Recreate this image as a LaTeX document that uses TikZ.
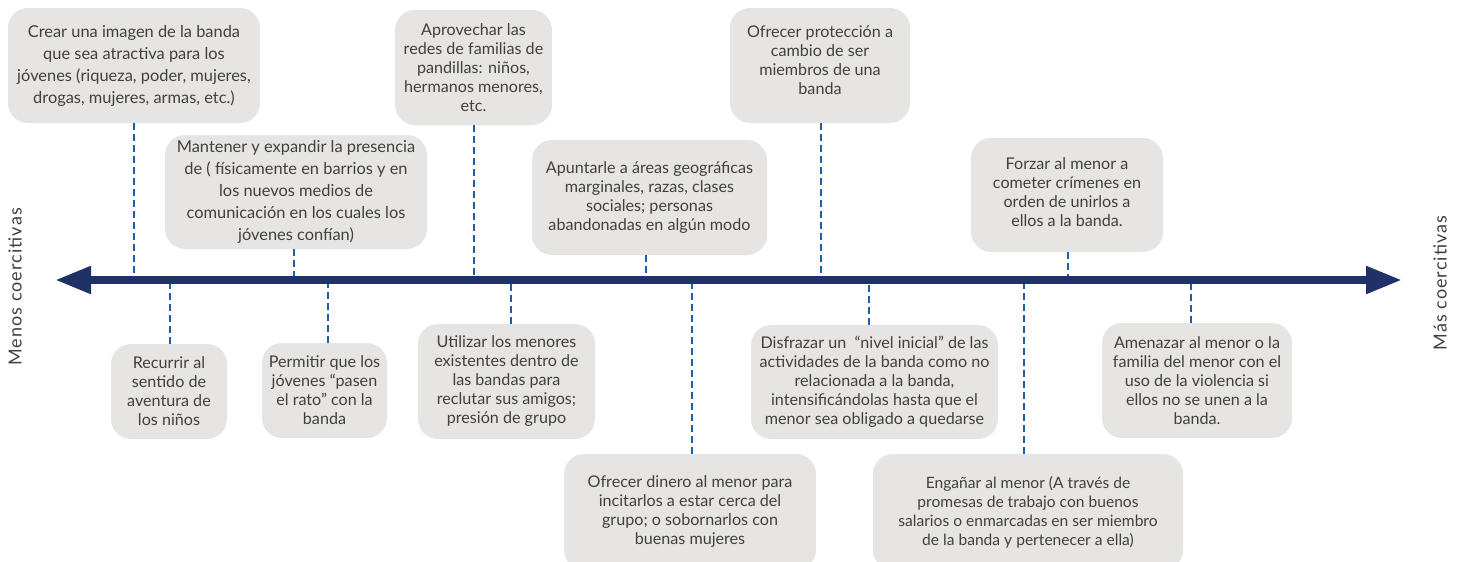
\documentclass[tikz,border=0pt]{standalone}
\usepackage{fontspec}
\setmainfont{Lato}
\newfontfamily\sidefont{Lato}[LetterSpace=6]
\usetikzlibrary{arrows.meta}
\definecolor{boxgray}{HTML}{E6E5E3}
\definecolor{txtgray}{HTML}{404040}
\definecolor{navy}{HTML}{1F3166}
\definecolor{dashblue}{HTML}{1D5EA8}
\begin{document}
\begin{tikzpicture}[x=0.75pt,y=-0.75pt,
  box/.style 2 args={fill=boxgray, rounded corners=15pt, text=txtgray, align=center,
    inner sep=0pt, minimum width=#1*0.75pt, minimum height=#2*0.75pt,
    font=\fontsize{12.1}{14.25}\selectfont},
  widebox/.style={font=\fontsize{12.3}{16.5}\selectfont},
  narrowtext/.style={font=\fontsize{11.7}{14.25}\selectfont},
  conn/.style={dashblue, line width=2.2pt, dash pattern=on 5.25pt off 3pt},
  axisline/.style={navy, line width=6pt,
    {Triangle[length=27pt,width=19.5pt]}-{Triangle[length=27pt,width=19.5pt]}},
  side/.style={rotate=90, text=txtgray, font=\sidefont\fontsize{13.5}{15}\selectfont}]
\useasboundingbox (0,0) rectangle (1462,561);

% axis coordinates
\coordinate (aL) at (55,280);
\coordinate (aR) at (1402,280);
\coordinate (t1) at (134,280);
\coordinate (t2) at (294,280);
\coordinate (t3) at (474,280);
\coordinate (t4) at (646,280);
\coordinate (t5) at (821,280);
\coordinate (t6) at (1068,280);
\coordinate (t7) at (170,280);
\coordinate (t8) at (328,280);
\coordinate (t9) at (511,280);
\coordinate (t10) at (692,280);
\coordinate (t11) at (869,280);
\coordinate (t12) at (1024,280);
\coordinate (t13) at (1191,280);

% boxes above
\node[box={252}{115}, widebox] (b1) at (134,65.5) {Crear una imagen de la banda\\que sea atractiva para los\\jóvenes (riqueza, poder, mujeres,\\drogas, mujeres, armas, etc.)};
\node[box={262}{114}, widebox] (b2) at (296,192) {Mantener y expandir la presencia\\de ( físicamente en barrios y en\\los nuevos medios de\\comunicación en los cuales los\\jóvenes confían)};
\node[box={157}{115}] (b3) at (473.5,67.5) {Aprovechar las\\redes de familias de\\pandillas: niños,\\hermanos menores,\\etc.};
\node[box={235}{115}] (b4) at (649.5,197.5) {Apuntarle a áreas geográficas\\marginales, razas, clases\\sociales; personas\\abandonadas en algún modo};
\node[box={180}{115}, text depth=8pt] (b5) at (820,65.5) {Ofrecer protección a\\cambio de ser\\miembros de una\\banda};
\node[box={192}{114}, text depth=5pt] (b6) at (1067,195) {Forzar al menor a\\cometer crímenes en\\orden de unirlos a\\ellos a la banda.};

% boxes below
\node[box={116}{95}] (b7) at (169,391.5) {Recurrir al\\sentido de\\aventura de\\los niños};
\node[box={125}{95}] (b8) at (324.5,390.5) {Permitir que los\\jóvenes “pasen\\el rato” con la\\banda};
\node[box={177}{115}] (b9) at (506.5,381.5) {Utilizar los menores\\existentes dentro de\\las bandas para\\reclutar sus amigos;\\presión de grupo};
\node[box={252}{116}] (b10) at (690,512) {Ofrecer dinero al menor para\\incitarlos a estar cerca del\\grupo; o sobornarlos con\\buenas mujeres};
\node[box={247}{114}] (b11) at (874.5,382) {Disfrazar un \ “nivel inicial” de las\\actividades de la banda como no\\relacionada a la banda,\\intensificándolas hasta que el\\menor sea obligado a quedarse};
\node[box={310}{116}, narrowtext] (b12) at (1028,512) {Engañar al menor (A través de\\promesas de trabajo con buenos\\salarios o enmarcadas en ser miembro\\de la banda y pertenecer a ella)};
\node[box={190}{115}] (b13) at (1197,380.5) {Amenazar al menor o la\\familia del menor con el\\uso de la violencia si\\ellos no se unen a la\\banda.};

% connectors
\foreach \i in {1,...,6}{
  \draw[conn] (b\i.south -| t\i) -- (t\i);
}
\foreach \i in {7,...,13}{
  \draw[conn] (b\i.north -| t\i) -- (t\i);
}

% axis
\draw[axisline] (aL) -- (aR);

% side labels
\node[side] (lm) at (15,287) {Menos coercitivas};
\node[side] (lM) at (1440,283) {Más coercitivas};
\end{tikzpicture}
\end{document}
